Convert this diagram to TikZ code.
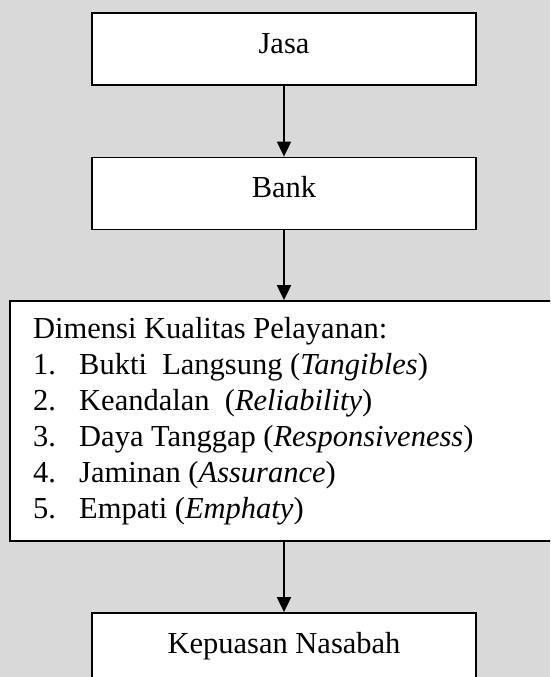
\documentclass[tikz,border=0pt]{standalone}
\usepackage{fontspec}
\setmainfont{Liberation Serif}
\usetikzlibrary{arrows.meta}
\definecolor{bggray}{RGB}{217,217,217}
\tikzset{
  box/.style={draw, line width=1.8pt, fill=white, minimum width=384pt, minimum height=72pt, inner sep=0pt, text height=20pt, text depth=12pt, font=\fontsize{30.5}{36}\selectfont},
  bigbox/.style={draw, line width=1.8pt, fill=white, inner sep=0pt},
  line/.style={anchor=base west, inner sep=0pt, font=\fontsize{30.5}{36}\selectfont},
  arr/.style={line width=1.8pt, -{Triangle[length=15pt,width=14pt]}}
}
\begin{document}
\begin{tikzpicture}[x=1pt,y=-1pt]
\useasboundingbox (0,0) rectangle (550,677);
\clip (0,0) rectangle (550,677);
\fill[bggray] (0,0) rectangle (550,677);
\node[box] (jasa) at (284,49) {Jasa};
\node[box] (bank) at (284,193.5) {Bank};
\node[bigbox, minimum width=560pt, minimum height=240pt] (dim) at (290,421) {};
\node[box, minimum height=73pt] (kep) at (284,649.5) {Kepuasan Nasabah};
\node[line] (l0) at (33,338) {Dimensi Kualitas Pelayanan:};
\node[line] (n1) at (33,374) {1.};
\node[line] (t1) at (79,374) {Bukti\ \ Langsung (\textit{Tangibles})};
\node[line] (n2) at (33,410) {2.};
\node[line] (t2) at (79,410) {Keandalan\ \ (\textit{Reliability})};
\node[line] (n3) at (33,446) {3.};
\node[line] (t3) at (79,446) {Daya Tanggap (\textit{Responsiveness})};
\node[line] (n4) at (33,482) {4.};
\node[line] (t4) at (79,482) {Jaminan (\textit{Assurance})};
\node[line] (n5) at (33,518) {5.};
\node[line] (t5) at (79,518) {Empati (\textit{Emphaty})};
\draw[arr] (jasa.south) -- (bank.north);
\draw[arr] (bank.south) -- (bank.south |- dim.north);
\draw[arr] (kep.north |- dim.south) -- (kep.north);
\end{tikzpicture}
\end{document}
